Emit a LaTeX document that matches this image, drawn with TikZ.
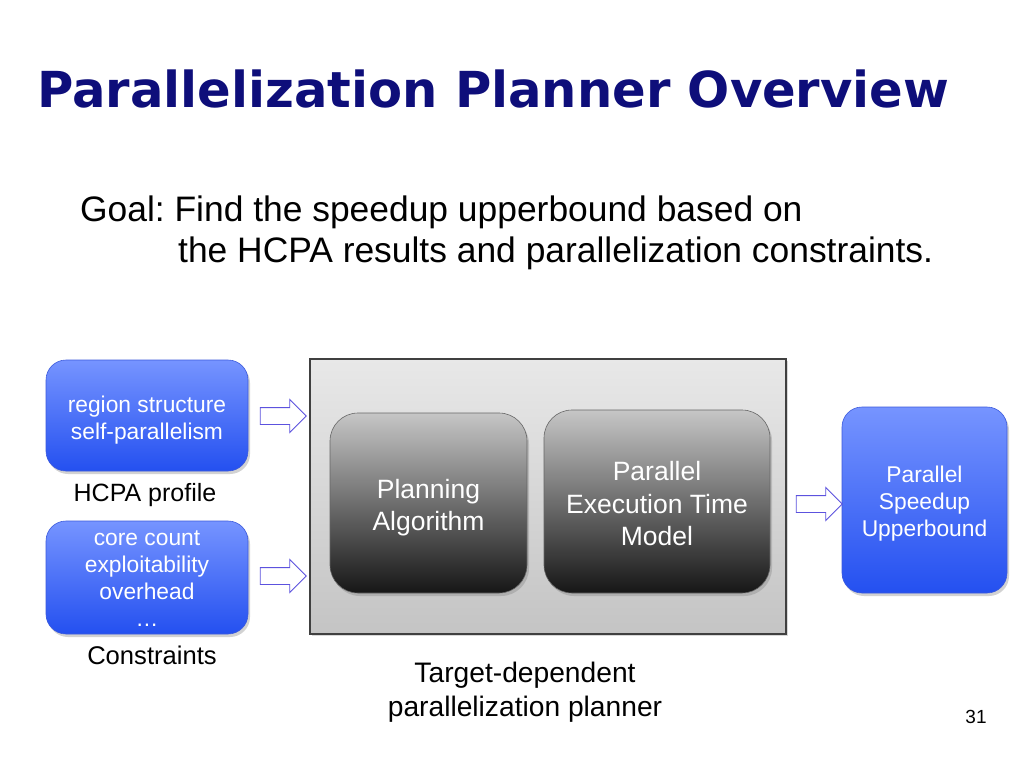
\documentclass[tikz,border=0pt]{standalone}
\usepackage{fontspec}
\setmainfont{Liberation Sans}
\newfontfamily\titlefont{DejaVu Sans}
\usetikzlibrary{shapes.arrows,shadows}
\frenchspacing
\definecolor{titleblue}{RGB}{14,14,122}
\definecolor{bluetop}{RGB}{118,148,255}
\definecolor{bluebot}{RGB}{36,80,240}
\definecolor{blueedge}{RGB}{60,90,220}
\definecolor{paneltop}{RGB}{232,232,232}
\definecolor{panelbot}{RGB}{196,196,196}
\definecolor{darktop}{RGB}{198,198,198}
\definecolor{darkbot}{RGB}{22,22,22}
\definecolor{arrowedge}{RGB}{92,82,222}
\tikzset{
  bluebox/.style={rounded corners=20pt, draw=blueedge, line width=0.6pt,
    top color=bluetop, bottom color=bluebot, inner sep=0pt,
    drop shadow={shadow xshift=2pt, shadow yshift=-3pt, opacity=0.35}},
  darkbox/.style={rounded corners=28pt, draw=black!60, line width=0.6pt,
    top color=darktop, bottom color=darkbot, inner sep=0pt,
    drop shadow={shadow xshift=2pt, shadow yshift=-3pt, opacity=0.35}},
  panelbox/.style={draw=black!75, line width=1.2pt, top color=paneltop,
    bottom color=panelbot, inner sep=0pt,
    drop shadow={shadow xshift=2pt, shadow yshift=-2pt, opacity=0.3}},
  bluetxt/.style={text=white, align=center, inner sep=0pt, font=\fontsize{22.8}{27}\selectfont},
  darktxt/.style={text=white, align=center, inner sep=0pt, font=\fontsize{26.5}{32.5}\selectfont},
  blockarrow/.style={single arrow, draw=arrowedge, fill=white, line width=0.9pt,
    minimum height=46pt, minimum width=32pt, single arrow head extend=8pt,
    inner xsep=0pt, inner ysep=8pt, single arrow head indent=0pt},
  label/.style={inner sep=0pt, align=center}
}
\begin{document}
\begin{tikzpicture}[x=1pt,y=-1pt]
\useasboundingbox[fill=white] (0,0) rectangle (1024,768);
% title
\node[inner sep=0pt, anchor=base west, text=titleblue, font=\titlefont\bfseries\fontsize{49.6}{55}\selectfont] (title) at (37,107) {Parallelization Planner Overview};
% goal
\node[inner sep=0pt, anchor=base west, font=\fontsize{35.4}{41}\selectfont] (goal1) at (80,221) {Goal: Find the speedup upperbound based on};
\node[inner sep=0pt, anchor=base west, font=\fontsize{35.4}{41}\selectfont] (goal2) at (178,262) {the HCPA results and parallelization constraints.};
% left boxes
\node[bluebox, minimum width=202pt, minimum height=111pt] (hcpa) at (147,415.5) {};
\node[bluetxt, yshift=-4.5pt] (hcpatxt) at (hcpa.center) {region structure\\self-parallelism};
\node[label, font=\fontsize{25}{28}\selectfont] (hcpalbl) at (145,495.5) {HCPA profile};
\node[bluebox, minimum width=202pt, minimum height=113pt] (cons) at (147,577.5) {};
\node[bluetxt, yshift=-1pt] (constxt) at (cons.center) {core count\\exploitability\\overhead\\\ldots};
\node[label, font=\fontsize{25.6}{28}\selectfont] (conslbl) at (152,655.5) {Constraints};
% panel
\node[panelbox, minimum width=476pt, minimum height=275pt] (panel) at (548,496.5) {};
\node[darkbox, minimum width=197pt, minimum height=180pt] (plan) at (428.5,503) {};
\node[darktxt, yshift=-4.5pt] (plantxt) at (plan.center) {Planning\\Algorithm};
\node[darkbox, minimum width=226pt, minimum height=183pt] (petm) at (657,501.5) {};
\node[darktxt, yshift=-2.5pt] (petmtxt) at (petm.center) {Parallel\\Execution Time\\Model};
\node[label, font=\fontsize{28.2}{34}\selectfont] (panellbl) at (525,692) {Target-dependent\\parallelization planner};
% right box
\node[bluebox, minimum width=165pt, minimum height=186pt] (spd) at (924.5,500) {};
\node[bluetxt, yshift=-4pt] (spdtxt) at (spd.center) {Parallel\\Speedup\\Upperbound};
% block arrows
\node[blockarrow] (a1) at (279,416) {};
\node[blockarrow] (a2) at (279,576) {};
\node[blockarrow] (a3) at (815,504) {};
% page number
\node[label, font=\fontsize{19}{22}\selectfont] (pnum) at (976,717) {31};
\end{tikzpicture}
\end{document}
